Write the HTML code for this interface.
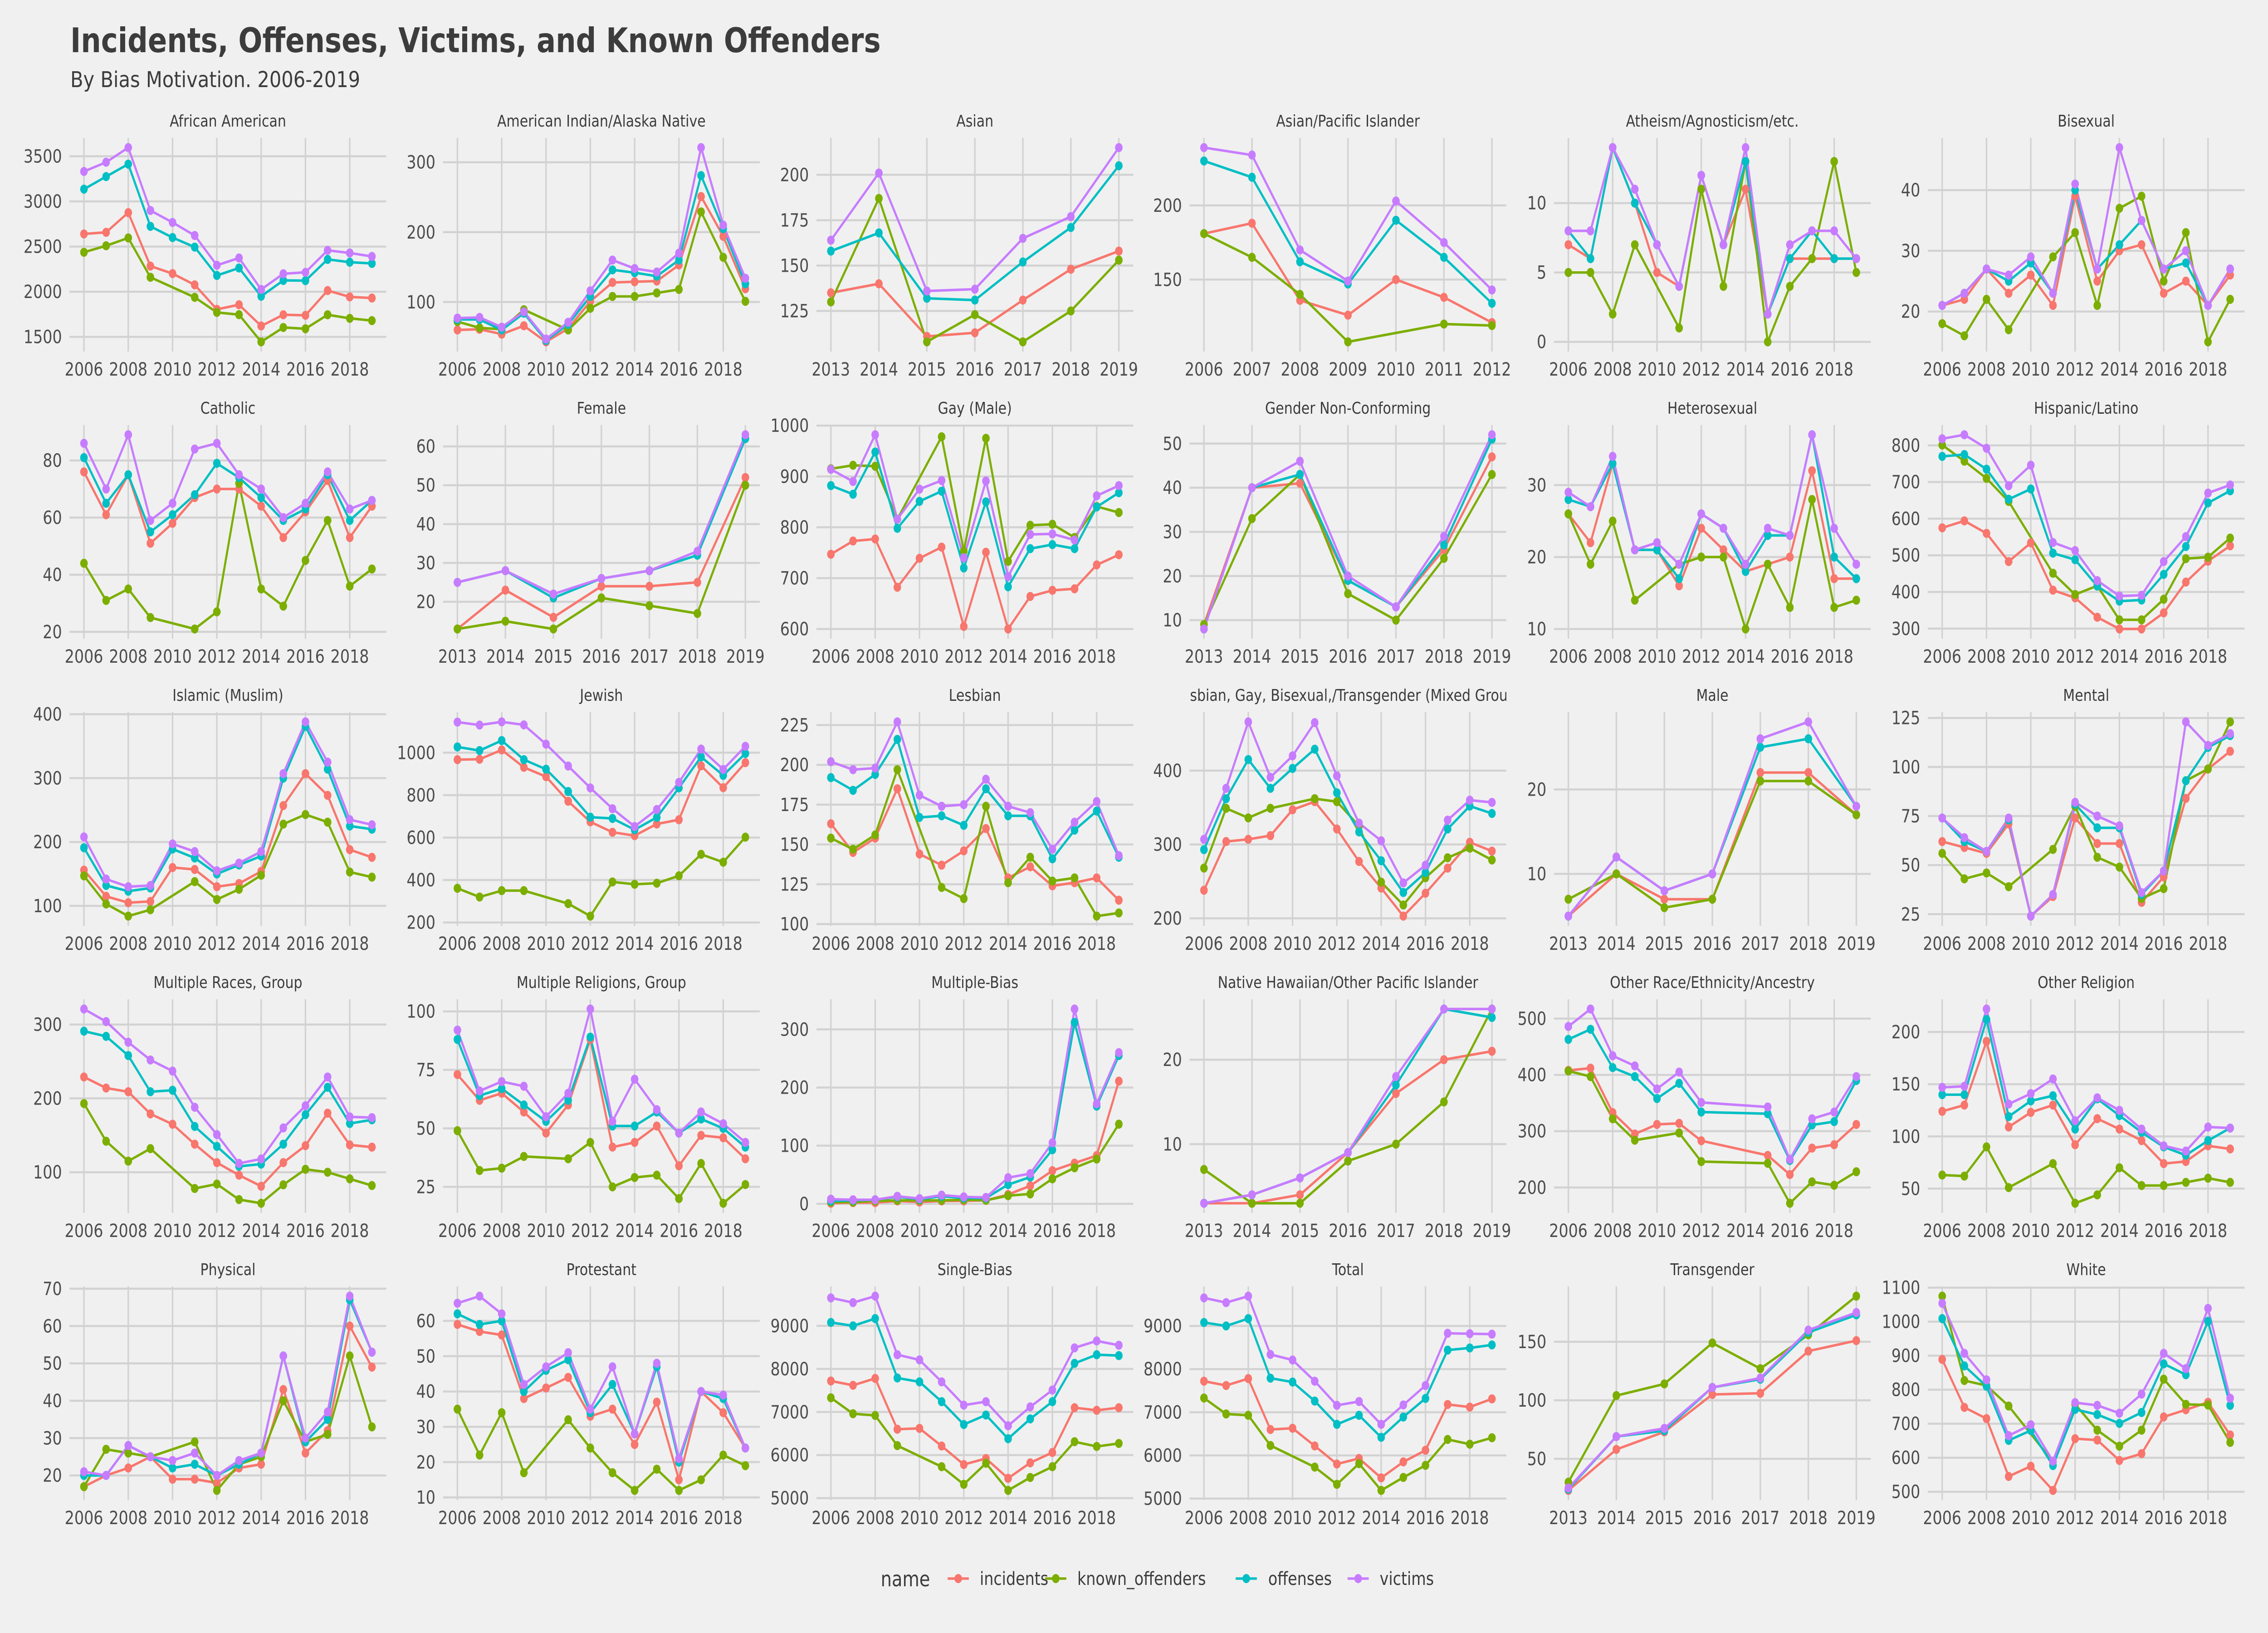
<!DOCTYPE html>
<html><head><meta charset="utf-8">
<style>
html,body{margin:0;padding:0;background:#F0F0F0;width:100%;height:100%;overflow:hidden;}
svg{display:block;width:100vw;height:100vh;font-family:"DejaVu Sans","Liberation Sans",sans-serif;}
</style></head>
<body>
<svg id="chart" xmlns="http://www.w3.org/2000/svg" viewBox="0 0 6000 3600" preserveAspectRatio="none">
<rect x="0" y="0" width="6000" height="3600" fill="#F0F0F0"/>
<text x="186" y="115" font-size="75" font-weight="bold" fill="#3C3C3C" textLength="2144" lengthAdjust="spacingAndGlyphs">Incidents, Offenses, Victims, and Known Offenders</text>
<text x="186" y="192" font-size="48" fill="#3C3C3C" textLength="767" lengthAdjust="spacingAndGlyphs">By Bias Motivation. 2006-2019</text>
<g id="panels"></g>
<g id="legend"></g>
</svg>
<script>
const panelNames = ["African American","American Indian/Alaska Native","Asian","Asian/Pacific Islander","Atheism/Agnosticism/etc.","Bisexual",
"Catholic","Female","Gay (Male)","Gender Non-Conforming","Heterosexual","Hispanic/Latino",
"Islamic (Muslim)","Jewish","Lesbian","Lesbian, Gay, Bisexual,/Transgender (Mixed Group)","Male","Mental",
"Multiple Races, Group","Multiple Religions, Group","Multiple-Bias","Native Hawaiian/Other Pacific Islander","Other Race/Ethnicity/Ancestry","Other Religion",
"Physical","Protestant","Single-Bias","Total","Transgender","White"];
const startYears = [2006,2006,2013,2006,2006,2006, 2006,2013,2006,2013,2006,2006, 2006,2006,2006,2006,2013,2006, 2006,2006,2006,2013,2006,2006, 2006,2006,2006,2006,2013,2006];
const N = null;
const incidents = [
[2640,2658,2876,2284,2201,2076,1805,1856,1621,1745,1739,2013,1943,1930],
[60,61,54,66,43,62,101,128,129,130,153,251,194,119],
[135,140,111,113,131,148,158],
[181,188,136,126,150,138,121],
[7,6,14,10,5,4,12,7,11,2,6,6,6,6],
[21,22,27,23,26,21,39,25,30,31,23,25,21,26],
[76,61,75,51,58,67,70,70,64,53,62,73,53,64],
[13,23,16,24,24,25,52],
[747,773,777,682,739,761,605,751,600,664,676,679,726,746],
[9,40,41,19,13,26,47],
[26,22,33,21,21,16,24,21,18,19,20,32,17,17],
[575,594,560,483,534,405,384,331,299,299,343,427,484,526],
[156,115,105,107,160,157,130,135,154,257,307,273,188,176],
[967,969,1013,931,887,771,674,625,609,664,684,938,835,953],
[163,145,154,185,144,137,146,160,129,136,124,126,129,115],
[238,304,307,312,347,358,321,277,241,203,234,268,303,291],
[5,10,7,7,22,22,17],
[62,59,56,71,24,34,74,61,61,31,44,84,99,108],
[229,214,209,179,165,138,113,96,81,113,136,180,137,134],
[73,62,65,57,48,60,88,42,44,51,34,47,46,37],
[1,2,2,5,3,5,5,6,16,31,57,70,83,211],
[3,3,4,9,16,20,21],
[408,412,333,295,312,314,283,N,N,257,223,270,276,312],
[124,130,191,109,123,130,92,117,107,96,74,76,91,88],
[17,20,22,25,19,19,18,22,23,43,26,32,60,49],
[59,57,56,38,41,44,33,35,25,37,15,40,34,24],
[7720,7620,7780,6600,6620,6210,5780,5920,5460,5820,6060,7100,7040,7100],
[7720,7620,7780,6600,6630,6220,5800,5930,5480,5850,6120,7180,7120,7310],
[23,58,73,105,106,142,151],
[889,748,715,545,575,504,656,652,592,612,720,741,763,667]
];
const knownOffenders = [
[2437,2509,2596,2160,N,1938,1771,1746,1445,1604,1590,1745,1705,1680],
[72,63,61,89,N,60,91,108,108,113,118,229,164,101],
[130,187,108,123,108,125,153],
[181,165,140,108,N,120,119],
[5,5,2,7,N,1,11,4,13,0,4,6,13,5],
[18,16,22,17,N,29,33,21,37,39,25,33,15,22],
[44,31,35,25,N,21,27,72,35,29,45,59,36,42],
[13,15,13,21,19,17,50],
[915,922,920,816,N,978,753,975,733,804,806,780,841,829],
[9,33,43,16,10,24,43],
[26,19,25,14,N,19,20,20,10,19,13,28,13,14],
[801,757,710,647,N,451,393,417,324,324,380,491,495,547],
[147,103,84,94,N,138,110,126,148,228,243,231,153,145],
[361,320,350,350,N,289,230,391,380,385,420,521,484,602],
[154,147,156,197,N,123,116,174,126,142,127,129,105,107],
[268,349,336,349,N,362,358,325,249,218,255,282,295,279],
[7,10,6,7,21,21,17],
[56,43,46,39,N,58,80,54,49,33,38,93,99,123],
[193,142,115,132,N,78,84,63,58,83,104,100,91,82],
[49,32,33,38,N,37,44,25,29,30,20,35,18,26],
[3,3,5,6,6,6,7,6,14,17,43,62,77,137],
[7,3,3,8,10,15,26],
[407,397,322,284,N,297,246,N,N,243,172,210,204,228],
[63,62,90,51,N,74,36,44,70,53,53,56,60,56],
[17,27,26,25,N,29,16,23,25,40,29,31,52,33],
[35,22,34,17,N,32,24,17,12,18,12,15,22,19],
[7330,6960,6920,6220,N,5730,5320,5810,5180,5480,5730,6310,6200,6270],
[7330,6960,6930,6230,N,5730,5330,5810,5190,5490,5770,6370,6260,6410],
[30,104,114,149,127,156,189],
[1075,827,812,752,N,588,757,681,634,681,831,757,755,645]
];
const offenses = [
[3136,3275,3413,2724,2600,2494,2180,2263,1950,2125,2123,2358,2327,2313],
[75,75,60,84,45,68,108,146,142,137,160,281,205,126],
[158,168,132,131,152,171,205],
[230,219,162,147,190,165,134],
[8,6,14,10,7,4,12,7,13,2,6,8,6,6],
[21,23,27,25,28,23,40,27,31,35,27,28,21,27],
[81,65,75,55,61,68,79,74,67,59,63,75,59,66],
[25,28,21,26,28,32,62],
[882,865,948,798,851,871,720,850,683,758,766,758,840,868],
[8,40,43,19,13,27,51],
[28,27,33,21,21,17,26,24,18,23,23,37,20,17],
[770,775,735,653,681,506,488,416,375,378,448,524,643,676],
[191,132,123,128,189,175,150,164,178,300,381,314,225,220],
[1027,1010,1057,967,922,817,696,690,637,695,834,980,893,996],
[192,184,194,216,167,168,162,185,168,168,141,159,171,142],
[293,362,415,376,403,429,370,317,278,235,262,321,352,342],
[5,12,8,10,25,26,18],
[74,62,57,73,24,35,81,69,69,35,47,93,110,116],
[291,284,258,209,211,162,135,108,111,138,178,215,166,171],
[88,64,67,60,53,62,89,51,51,57,48,54,50,42],
[5,6,7,12,8,13,10,10,33,46,93,312,168,255],
[3,4,6,9,17,26,25],
[463,481,413,397,358,385,334,N,N,331,248,311,317,390],
[140,140,212,119,134,139,107,136,120,104,90,82,96,108],
[20,20,28,25,22,23,20,23,26,52,29,35,67,53],
[62,59,60,40,46,49,34,42,28,47,20,40,38,24],
[9080,9000,9170,7790,7700,7240,6710,6930,6380,6840,7240,8130,8330,8310],
[9080,9000,9170,7790,7700,7260,6720,6930,6420,6890,7320,8440,8490,8560],
[24,69,74,111,118,158,173],
[1009,870,810,651,680,577,742,727,701,733,876,844,1001,754]
];
const victims = [
[3332,3434,3596,2900,2767,2623,2293,2374,2025,2199,2215,2458,2429,2391],
[77,78,64,86,47,71,116,160,148,143,170,321,210,134],
[164,201,136,137,165,177,215],
[239,234,170,149,203,175,143],
[8,8,14,11,7,4,12,7,14,2,7,8,8,6],
[21,23,27,26,29,23,41,27,47,35,27,30,21,27],
[86,70,89,59,65,84,86,75,70,60,65,76,63,66],
[25,28,22,26,28,33,63],
[914,890,982,816,875,892,740,891,703,786,787,775,862,882],
[8,40,46,20,13,29,52],
[29,27,34,21,22,19,26,24,19,24,23,37,24,19],
[818,829,792,690,746,535,513,431,389,391,483,551,670,692],
[208,142,130,132,197,185,155,167,185,307,388,325,235,227],
[1144,1130,1145,1131,1040,937,834,736,652,732,860,1017,921,1030],
[202,197,198,227,181,174,175,191,174,170,147,164,177,143],
[307,376,466,391,420,465,393,329,305,248,272,333,360,357],
[5,12,8,10,26,28,18],
[74,64,57,74,24,35,82,75,70,36,47,123,111,117],
[321,304,276,252,237,188,151,112,118,160,190,229,175,174],
[92,66,70,68,55,65,101,53,71,58,48,57,52,44],
[8,7,7,13,9,15,12,11,45,52,105,335,172,260],
[3,4,6,9,18,26,26],
[486,517,434,416,375,405,351,N,N,343,250,322,334,397],
[147,148,222,131,141,155,115,137,125,107,91,86,109,108],
[21,20,28,25,24,26,20,24,26,52,30,37,68,53],
[65,67,62,42,47,51,35,47,28,48,21,40,39,24],
[9650,9540,9690,8330,8210,7700,7160,7240,6680,7120,7510,8490,8650,8550],
[9650,9540,9690,8340,8210,7720,7160,7250,6720,7170,7620,8830,8820,8810],
[25,69,76,111,119,160,175],
[1054,907,829,665,697,590,762,754,731,787,907,862,1039,775]
];
const yTicks = [
[1500,2000,2500,3000,3500],[100,200,300],[125,150,175,200],[150,200],[0,5,10],[20,30,40],
[20,40,60,80],[20,30,40,50,60],[600,700,800,900,1000],[10,20,30,40,50],[10,20,30],[300,400,500,600,700,800],
[100,200,300,400],[200,400,600,800,1000],[100,125,150,175,200,225],[200,300,400],[10,20],[25,50,75,100,125],
[100,200,300],[25,50,75,100],[0,100,200,300],[10,20],[200,300,400,500],[50,100,150,200],
[20,30,40,50,60,70],[10,20,30,40,50,60],[5000,6000,7000,8000,9000],[5000,6000,7000,8000,9000],[50,100,150],[500,600,700,800,900,1000,1100]
];
const seriesNames = ["incidents","known_offenders","offenses","victims"];
const seriesColors = ["#F8766D","#7CAE00","#00BFC4","#C77CFF"];
const seriesData = [incidents, knownOffenders, offenses, victims];

const NS = "http://www.w3.org/2000/svg";
const svg = document.getElementById("chart");
const panelsG = document.getElementById("panels");
const colLeft = [184,1172,2160,3147,4111,5100];
const PW = 838, PH = 471;
function el(tag, parent){ const e = document.createElementNS(NS, tag); parent.appendChild(e); return e; }
function slug(s){ return s.toLowerCase().replace(/[^a-z0-9]+/g,'-').replace(/^-|-$/g,''); }

const defs = el("defs", svg);
panelNames.forEach((name, p) => {
  const c = p % 6, r = Math.floor(p / 6);
  const L = colLeft[c], T = 304 + 633 * r;
  const n = incidents[p].length;
  const y0 = startYears[p], y1 = y0 + n - 1;
  const xs = (yr) => L + PW * (yr - (y0 - 0.05 * (y1 - y0))) / (1.1 * (y1 - y0));
  let vals = [];
  seriesData.forEach(s => s[p].forEach(v => { if (v !== null) vals.push(v); }));
  const vmin = Math.min(...vals), vmax = Math.max(...vals);
  const pad = (vmax - vmin) * 0.05;
  const lo = vmin - pad, hi = vmax + pad;
  const ys = (v) => T + PH * (hi - v) / (hi - lo);

  const g = el("g", panelsG);
  
  

  const cp = el("clipPath", defs);
  cp.setAttribute("id", "clip" + p);
  const cr = el("rect", cp);
  cr.setAttribute("x", L); cr.setAttribute("y", T - 80); cr.setAttribute("width", PW); cr.setAttribute("height", 80);

  const title = el("text", g);
  
  
  title.setAttribute("x", L + PW / 2); title.setAttribute("y", T - 25);
  title.setAttribute("text-anchor", "middle"); title.setAttribute("font-size", "36");
  title.setAttribute("fill", "#3C3C3C"); title.setAttribute("clip-path", "url(#clip" + p + ")");
  title.textContent = name;

  const step = n > 7 ? 2 : 1;
  for (let yr = y0; yr <= y1; yr += step) {
    const x = xs(yr);
    const gl = el("line", g);
    
    
    gl.setAttribute("x1", x); gl.setAttribute("x2", x); gl.setAttribute("y1", T); gl.setAttribute("y2", T + PH);
    gl.setAttribute("stroke", "#D2D2D2"); gl.setAttribute("stroke-width", "4");
    const tl = el("text", g);
    
    
    tl.setAttribute("x", x); tl.setAttribute("y", T + PH + 53);
    tl.setAttribute("text-anchor", "middle"); tl.setAttribute("font-size", "40"); tl.setAttribute("fill", "#4D4D4D");
    tl.textContent = yr;
  }
  yTicks[p].forEach(t => {
    if (t < lo || t > hi) return;
    const y = ys(t);
    const gl = el("line", g);
    
    
    gl.setAttribute("x1", L); gl.setAttribute("x2", L + PW); gl.setAttribute("y1", y); gl.setAttribute("y2", y);
    gl.setAttribute("stroke", "#D2D2D2"); gl.setAttribute("stroke-width", "4.5");
    const tl = el("text", g);
    
    
    tl.setAttribute("x", L - 20); tl.setAttribute("y", y + 14);
    tl.setAttribute("text-anchor", "end"); tl.setAttribute("font-size", "40"); tl.setAttribute("fill", "#4D4D4D");
    tl.textContent = t;
  });
  seriesData.forEach((s, si) => {
    const pts = [];
    s[p].forEach((v, i) => { if (v !== null) pts.push(xs(y0 + i).toFixed(1) + "," + ys(v).toFixed(1)); });
    const pl = el("polyline", g);
    
    
    pl.setAttribute("points", pts.join(" "));
    pl.setAttribute("fill", "none"); pl.setAttribute("stroke", seriesColors[si]);
    pl.setAttribute("stroke-width", "5.5"); pl.setAttribute("stroke-linejoin", "round");
  });
  seriesData.forEach((s, si) => {
    s[p].forEach((v, i) => {
      if (v === null) return;
      const ci = el("circle", g);
      
      
      ci.setAttribute("cx", xs(y0 + i)); ci.setAttribute("cy", ys(v)); ci.setAttribute("r", "10");
      ci.setAttribute("fill", seriesColors[si]);
    });
  });
});

const lg = document.getElementById("legend");
const lt = el("text", lg);


lt.setAttribute("x", 2330); lt.setAttribute("y", 3497); lt.setAttribute("font-size", "46"); lt.setAttribute("fill", "#3C3C3C");
lt.textContent = "name";
const keyX = [2535, 2793, 3297, 3593];
const labX = [2592, 2850, 3355, 3650];
seriesNames.forEach((nm, si) => {
  const eg = el("g", lg);
  
  
  const ln = el("line", eg);
  
  
  ln.setAttribute("x1", keyX[si] - 28); ln.setAttribute("x2", keyX[si] + 28);
  ln.setAttribute("y1", 3480); ln.setAttribute("y2", 3480);
  ln.setAttribute("stroke", seriesColors[si]); ln.setAttribute("stroke-width", "5.5");
  const cc = el("circle", eg);
  
  
  cc.setAttribute("cx", keyX[si]); cc.setAttribute("cy", 3480); cc.setAttribute("r", "10"); cc.setAttribute("fill", seriesColors[si]);
  const tx = el("text", eg);
  
  
  tx.setAttribute("x", labX[si]); tx.setAttribute("y", 3494); tx.setAttribute("font-size", "40"); tx.setAttribute("fill", "#3C3C3C");
  tx.textContent = nm;
});
</script>
</body></html>
